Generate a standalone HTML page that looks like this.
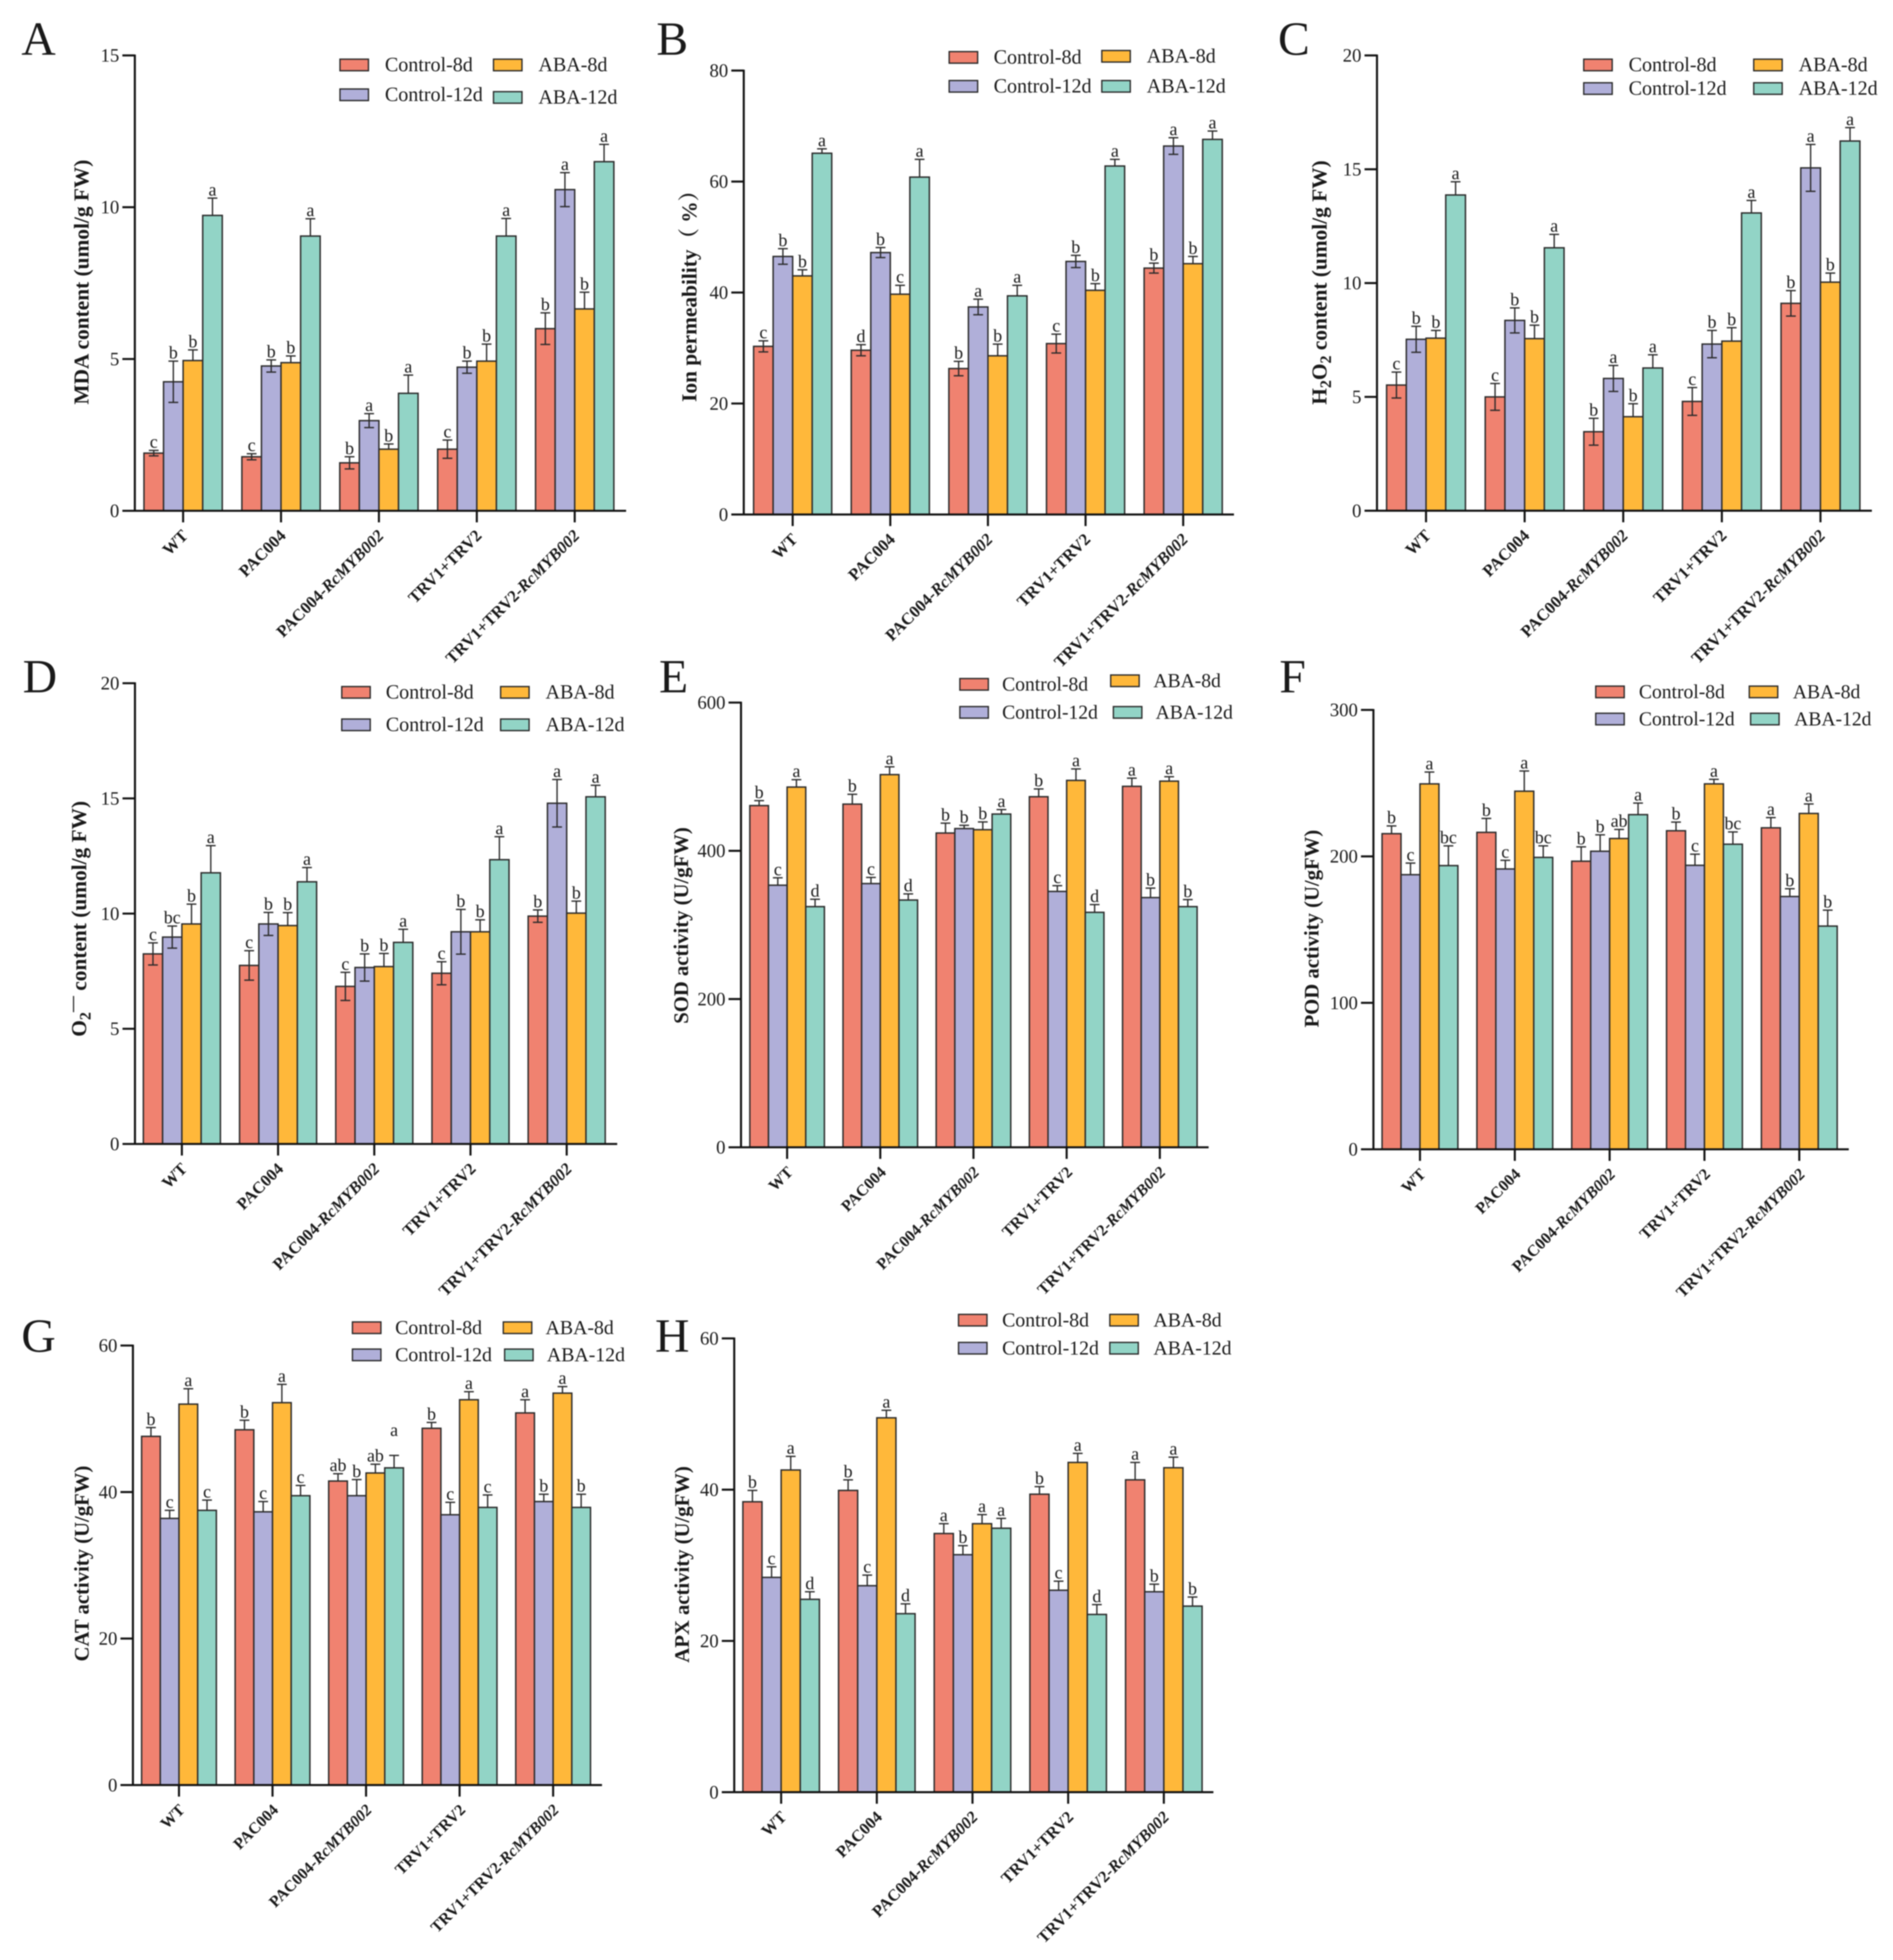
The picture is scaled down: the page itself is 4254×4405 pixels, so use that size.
<!DOCTYPE html>
<html lang="en">
<head>
<meta charset="utf-8">
<title>Physiological indices across eight panels</title>
<style>
html,body{margin:0;padding:0;background:#fff;}
svg{display:block;filter:blur(1.4px);}
text{font-family:"Liberation Serif","Noto Serif CJK SC",serif;fill:#1a1a1a;}
</style>
</head>
<body>
<svg id="figure" xmlns="http://www.w3.org/2000/svg" width="4254" height="4405" viewBox="0 0 4254 4405"></svg>
<script>
const categories = ['WT', 'PAC004', 'PAC004-RcMYB002', 'TRV1+TRV2', 'TRV1+TRV2-RcMYB002'];
const seriesNames = ['Control-8d', 'Control-12d', 'ABA-8d', 'ABA-12d'];

const mdaTicks = [0, 5, 10, 15];
const mdaControl8d = [1.9, 1.78, 1.58, 2.03, 6.0];
const mdaControl12d = [4.25, 4.77, 2.97, 4.73, 10.58];
const mdaAba8d = [4.95, 4.88, 2.03, 4.93, 6.65];
const mdaAba12d = [9.73, 9.05, 3.87, 9.05, 11.5];
const mdaControl8dErr = [0.09, 0.1, 0.2, 0.3, 0.52];
const mdaControl12dErr = [0.68, 0.2, 0.23, 0.2, 0.56];
const mdaAba8dErr = [0.35, 0.22, 0.17, 0.56, 0.55];
const mdaAba12dErr = [0.57, 0.57, 0.6, 0.58, 0.57];
const mdaLetters = [['c','b','b','a'],['c','b','b','a'],['b','a','b','a'],['c','b','b','a'],['b','a','b','a']];

const ionTicks = [0, 20, 40, 60, 80];
const ionControl8d = [30.3, 29.6, 26.3, 30.8, 44.4];
const ionControl12d = [46.5, 47.2, 37.4, 45.6, 66.4];
const ionAba8d = [43, 39.7, 28.6, 40.4, 45.2];
const ionAba12d = [65.1, 60.8, 39.4, 62.8, 67.6];
const ionControl8dErr = [1.0, 1.0, 1.3, 1.7, 0.9];
const ionControl12dErr = [1.4, 0.9, 1.4, 1.1, 1.5];
const ionAba8dErr = [1.1, 1.6, 2.1, 1.2, 1.3];
const ionAba12dErr = [0.8, 3.2, 1.9, 1.2, 1.5];
const ionLetters = [['c','b','b','a'],['d','b','c','a'],['b','a','b','a'],['c','b','b','a'],['b','a','b','a']];

const h2o2Ticks = [0, 5, 10, 15, 20];
const h2o2Control8d = [5.52, 5.0, 3.47, 4.8, 9.11];
const h2o2Control12d = [7.53, 8.36, 5.81, 7.32, 15.06];
const h2o2Aba8d = [7.58, 7.56, 4.13, 7.45, 10.04];
const h2o2Aba12d = [13.87, 11.55, 6.27, 13.08, 16.24];
const h2o2Control8dErr = [0.57, 0.59, 0.59, 0.61, 0.56];
const h2o2Control12dErr = [0.57, 0.55, 0.57, 0.6, 1.03];
const h2o2Aba8dErr = [0.34, 0.59, 0.57, 0.59, 0.4];
const h2o2Aba12dErr = [0.58, 0.59, 0.58, 0.55, 0.59];
const h2o2Letters = [['c','b','b','a'],['c','b','b','a'],['b','a','b','a'],['c','b','b','a'],['b','a','b','a']];

const o2Ticks = [0, 5, 10, 15, 20];
const o2Control8d = [8.25, 7.75, 6.84, 7.41, 9.89];
const o2Control12d = [8.98, 9.55, 7.66, 9.21, 14.79];
const o2Aba8d = [9.55, 9.48, 7.7, 9.21, 10.02];
const o2Aba12d = [11.77, 11.38, 8.75, 12.34, 15.07];
const o2Control8dErr = [0.48, 0.64, 0.61, 0.5, 0.27];
const o2Control12dErr = [0.48, 0.5, 0.59, 0.97, 1.03];
const o2Aba8dErr = [0.86, 0.56, 0.57, 0.52, 0.52];
const o2Aba12dErr = [1.18, 0.62, 0.57, 1.0, 0.5];
const o2Letters = [['c','bc','b','a'],['c','b','b','a'],['c','b','b','a'],['c','b','b','a'],['b','a','b','a']];

const sodTicks = [0, 200, 400, 600];
const sodControl8d = [461, 463, 424, 473, 487];
const sodControl12d = [353.6, 355.8, 430, 345.2, 336.9];
const sodAba8d = [486, 502.8, 428.5, 495, 494];
const sodAba12d = [324.7, 333.6, 449.6, 317, 324.7];
const sodControl8dErr = [6.7, 13.3, 13.3, 10.5, 11];
const sodControl12dErr = [10, 8.3, 4.4, 7.8, 12.8];
const sodAba8dErr = [10, 10.5, 10.5, 15.5, 6];
const sodAba12dErr = [10, 8.3, 6, 10.5, 9.5];
const sodLetters = [['b','c','a','d'],['b','c','a','d'],['b','b','b','a'],['b','c','a','d'],['a','b','a','b']];

const podTicks = [0, 100, 200, 300];
const podControl8d = [215.5, 216.4, 196.7, 217.5, 219.5];
const podControl12d = [187.5, 191.4, 203.5, 193.9, 172.6];
const podAba8d = [249.5, 244.5, 212.2, 249.5, 229.3];
const podAba12d = [193.7, 199.3, 228.5, 208.3, 152.4];
const podControl8dErr = [5.3, 9.5, 9.8, 5.9, 7];
const podControl12dErr = [7.9, 5.9, 11.2, 7.6, 5.3];
const podAba8dErr = [8.1, 13.8, 6.2, 3.1, 6.5];
const podAba12dErr = [13.5, 7.9, 7.9, 8.4, 10.9];
const podLetters = [['b','c','a','bc'],['b','c','a','bc'],['b','b','ab','a'],['b','c','a','bc'],['a','b','a','b']];

const catTicks = [0, 20, 40, 60];
const catControl8d = [47.6, 48.5, 41.5, 48.7, 50.8];
const catControl12d = [36.4, 37.3, 39.5, 36.9, 38.7];
const catAba8d = [52, 52.2, 42.6, 52.6, 53.5];
const catAba12d = [37.5, 39.5, 43.3, 37.9, 37.9];
const catControl8dErr = [1.2, 1.3, 1.0, 0.8, 1.8];
const catControl12dErr = [1.1, 1.4, 2.2, 1.7, 1.0];
const catAba8dErr = [2.1, 2.5, 1.2, 1.1, 0.9];
const catAba12dErr = [1.4, 1.4, 1.7, 1.7, 1.8];
const catLetters = [['b','c','a','c'],['b','c','a','c'],['ab','b','ab','a'],['b','c','a','c'],['a','b','a','b']];

const apxTicks = [0, 20, 40, 60];
const apxControl8d = [38.4, 39.9, 34.2, 39.4, 41.3];
const apxControl12d = [28.4, 27.3, 31.4, 26.7, 26.5];
const apxAba8d = [42.6, 49.5, 35.5, 43.6, 42.9];
const apxAba12d = [25.5, 23.6, 34.9, 23.5, 24.6];
const apxControl8dErr = [1.5, 1.4, 1.3, 1.0, 2.3];
const apxControl12dErr = [1.4, 1.4, 1.2, 1.2, 1.0];
const apxAba8dErr = [1.8, 1.0, 1.2, 1.2, 1.4];
const apxAba12dErr = [1.0, 1.3, 1.3, 1.3, 1.2];
const apxLetters = [['b','c','a','d'],['b','c','a','d'],['a','b','a','a'],['b','c','a','d'],['a','b','a','b']];

/* Layout only (pixels and styling), kept apart from the data arrays above. */
const seriesColors = ['#F08270', '#B0AFD9', '#FFB83A', '#92D4C6'];
const SVG_NS = 'http://www.w3.org/2000/svg';
const panels = [
  {key:'a', letter:'A', lx:48, ly:123, ax:303, y0:1148, yTop:124.6, firstC:411.5, step:220, bw:44, xEnd:1407,
   ticks:mdaTicks, values:[mdaControl8d,mdaControl12d,mdaAba8d,mdaAba12d], errs:[mdaControl8dErr,mdaControl12dErr,mdaAba8dErr,mdaAba12dErr], letters:mdaLetters, lowerSeries:2,
   titleX:183, titleY:634, titleSize:48, labelSize:37.6, labelDx:13, legendSize:45, title:[['MDA content (umol/g FW)','']],
   legend:[[764,146,865],[764,213,865],[1109,146,1210],[1109,219,1210]]},
  {key:'b', letter:'B', lx:1475, ly:123, ax:1671.4, y0:1156.3, yTop:158.6, firstC:1781.3, step:219.4, bw:43.9, xEnd:2773,
   ticks:ionTicks, values:[ionControl8d,ionControl12d,ionAba8d,ionAba12d], errs:[ionControl8dErr,ionControl12dErr,ionAba8dErr,ionAba12dErr], letters:ionLetters, lowerSeries:2,
   titleX:1549, titleY:654, titleSize:48, labelSize:37.6, labelDx:13, legendSize:45, title:[['Ion permeability\uFF08 %\uFF09','']],
   legend:[[2133,129,2233],[2133,194,2233],[2476,126.5,2577],[2476,194,2577]]},
  {key:'c', letter:'C', lx:2872, ly:123, ax:3094.4, y0:1147.8, yTop:124.6, firstC:3204.6, step:221.6, bw:44.3, xEnd:4206.5,
   ticks:h2o2Ticks, values:[h2o2Control8d,h2o2Control12d,h2o2Aba8d,h2o2Aba12d], errs:[h2o2Control8dErr,h2o2Control12dErr,h2o2Aba8dErr,h2o2Aba12dErr], letters:h2o2Letters, lowerSeries:2,
   titleX:2965, titleY:635, titleSize:48, labelSize:37.6, labelDx:13, legendSize:45, title:[['H',''],['2','sub'],['O',''],['2','sub'],[' content (umol/g FW)','']],
   legend:[[3559,146,3660],[3559,199,3660],[3941,146,4042],[3941,199,4042]]},
  {key:'d', letter:'D', lx:51, ly:1556, ax:303.3, y0:2571, yTop:1535.5, firstC:408.7, step:216.2, bw:43.3, xEnd:1387,
   ticks:o2Ticks, values:[o2Control8d,o2Control12d,o2Aba8d,o2Aba12d], errs:[o2Control8dErr,o2Control12dErr,o2Aba8dErr,o2Aba12dErr], letters:o2Letters, lowerSeries:2,
   titleX:177.5, titleY:2065, titleSize:48, labelSize:37.4, labelDx:14, legendSize:45, title:[['O',''],['2','sub'],['\u2014','sup'],[' content (umol/g FW)','']],
   legend:[[768,1556,867],[768,1629,867],[1125,1556,1226],[1125,1629,1226]]},
  {key:'e', letter:'E', lx:1481, ly:1556, ax:1665.2, y0:2578.5, yTop:1579, firstC:1768.8, step:209.4, bw:41.9, xEnd:2716,
   ticks:sodTicks, values:[sodControl8d,sodControl12d,sodAba8d,sodAba12d], errs:[sodControl8dErr,sodControl12dErr,sodAba8dErr,sodAba12dErr], letters:sodLetters, lowerSeries:0,
   titleX:1530, titleY:2080, titleSize:46.5, labelSize:36, labelDx:15, legendSize:44, title:[['SOD activity (U/gFW)','']],
   legend:[[2157,1538,2252],[2157,1601,2252],[2496,1530,2592],[2502,1601,2597]]},
  {key:'f', letter:'F', lx:2875, ly:1556, ax:3086.4, y0:2583, yTop:1595.5, firstC:3191, step:213.1, bw:42.6, xEnd:4154.6,
   ticks:podTicks, values:[podControl8d,podControl12d,podAba8d,podAba12d], errs:[podControl8dErr,podControl12dErr,podAba8dErr,podAba12dErr], letters:podLetters, lowerSeries:0,
   titleX:2947, titleY:2087, titleSize:46.5, labelSize:36.2, labelDx:15, legendSize:44, title:[['POD activity (U/gFW)','']],
   legend:[[3586,1555,3683],[3586,1616,3683],[3931,1555,4029],[3934,1616,4032]]},
  {key:'g', letter:'G', lx:48, ly:3038, ax:298.7, y0:4011.8, yTop:3024, firstC:402.2, step:210.2, bw:42, xEnd:1352.8,
   ticks:catTicks, values:[catControl8d,catControl12d,catAba8d,catAba12d], errs:[catControl8dErr,catControl12dErr,catAba8dErr,catAba12dErr], letters:catLetters, lowerSeries:0, liftGroup:2, liftSeries:3, liftPx:38,
   titleX:183, titleY:3514, titleSize:46.5, labelSize:36, labelDx:15, legendSize:44.5, title:[['CAT activity (U/gFW)','']],
   legend:[[792,2984,888],[792,3045,888],[1131,2984,1226],[1134,3045,1229]]},
  {key:'h', letter:'H', lx:1472, ly:3038, ax:1650, y0:4027.8, yTop:3008, firstC:1755.4, step:215, bw:43, xEnd:2726.8,
   ticks:apxTicks, values:[apxControl8d,apxControl12d,apxAba8d,apxAba12d], errs:[apxControl8dErr,apxControl12dErr,apxAba8dErr,apxAba12dErr], letters:apxLetters, lowerSeries:0,
   titleX:1532, titleY:3516, titleSize:46.5, labelSize:37, labelDx:14, legendSize:44.5, title:[['APX activity (U/gFW)','']],
   legend:[[2154,2967,2252],[2154,3030,2252],[2494,2967,2592],[2494,3030,2592]]}
];

function make(tag, attrs, parent) {
  const el = document.createElementNS(SVG_NS, tag);
  for (const k in attrs) el.setAttribute(k, attrs[k]);
  parent.appendChild(el);
  return el;
}

const root = document.getElementById('figure');

panels.forEach(function (p) {
  const g = make('g', {}, root);
  
  

  const maxV = p.ticks[p.ticks.length - 1];
  const yScale = function (v) { return p.y0 - (p.y0 - p.yTop) * v / maxV; };
  const xCenter = function (i) { return p.firstC + p.step * i; };
  const barLeft = function (i, s) { return xCenter(i) + (s - 2) * p.bw; };

  const panelLetter = make('text', {x: p.lx, y: p.ly, 'font-size': 107}, g);
  panelLetter.textContent = p.letter;
  
  

  const title = make('text', {transform: 'translate(' + (p.titleX + 16) + ' ' + p.titleY + ') rotate(-90)', 'text-anchor': 'middle', 'font-size': p.titleSize, 'font-weight': 'bold'}, g);
  
  
  p.title.forEach(function (part) {
    const t = make('tspan', {}, title);
    t.textContent = part[0];
    if (part[1] === 'sub') {
      t.setAttribute('font-size', 36);
      t.setAttribute('dy', 10);
    } else if (part[1] === 'sup') {
      t.setAttribute('font-size', 36);
      t.setAttribute('dy', -30);
    } else if (title.childNodes.length > 1) {
      const prev = p.title[title.childNodes.length - 2][1];
      t.setAttribute('dy', prev === 'sub' ? -10 : prev === 'sup' ? 20 : 0);
    }
  });

  p.values.forEach(function (vals, s) {
    vals.forEach(function (v, i) {
      const top = yScale(v);
      const bar = make('rect', {x: barLeft(i, s), y: top, width: p.bw, height: p.y0 - top, fill: seriesColors[s], stroke: '#2a2a2a', 'stroke-width': 3.2}, g);
      
      
    });
  });

  p.values.forEach(function (vals, s) {
    vals.forEach(function (v, i) {
      const cx = barLeft(i, s) + p.bw / 2;
      const e = p.errs[s][i];
      const yHi = yScale(v + e);
      const yLo = s < p.lowerSeries ? yScale(v - e) : yScale(v);
      const stem = make('line', {x1: cx, x2: cx, y1: yHi, y2: yLo, stroke: '#2a2a2a', 'stroke-width': 3}, g);
      
      
      const capTop = make('line', {x1: cx - 11, x2: cx + 11, y1: yHi, y2: yHi, stroke: '#2a2a2a', 'stroke-width': 3}, g);
      
      
      if (s < p.lowerSeries) {
        const capLow = make('line', {x1: cx - 11, x2: cx + 11, y1: yLo, y2: yLo, stroke: '#2a2a2a', 'stroke-width': 3}, g);
        
        
      }
      const lift = (p.liftGroup === i && p.liftSeries === s) ? p.liftPx : 0;
      const sig = make('text', {x: cx, y: yHi - 6 - lift, 'text-anchor': 'middle', 'font-size': 40}, g);
      sig.textContent = p.letters[i][s];
      
      
    });
  });

  const yAxis = make('line', {x1: p.ax, x2: p.ax, y1: p.yTop - 2, y2: p.y0 + 2, stroke: '#111', 'stroke-width': 4.6}, g);
  
  
  const xAxis = make('line', {x1: p.ax, x2: p.xEnd, y1: p.y0, y2: p.y0, stroke: '#111', 'stroke-width': 4.6}, g);
  
  

  p.ticks.forEach(function (t) {
    const y = yScale(t);
    const mark = make('line', {x1: p.ax - 28, x2: p.ax, y1: y, y2: y, stroke: '#111', 'stroke-width': 4.6}, g);
    
    
    const lab = make('text', {x: p.ax - 35, y: y + 14, 'text-anchor': 'end', 'font-size': 42}, g);
    lab.textContent = t;
    
    
  });

  categories.forEach(function (c, i) {
    const x = xCenter(i);
    const mark = make('line', {x1: x, x2: x, y1: p.y0, y2: p.y0 + 26, stroke: '#111', 'stroke-width': 4.6}, g);
    
    
    const lab = make('text', {transform: 'translate(' + (x + p.labelDx) + ' ' + (p.y0 + 58) + ') rotate(-45)', 'text-anchor': 'end', 'font-size': p.labelSize, 'font-weight': 'bold'}, g);
    
    
    const idx = c.indexOf('RcMYB002');
    if (idx >= 0) {
      const plain = make('tspan', {}, lab);
      plain.textContent = c.slice(0, idx);
      const ital = make('tspan', {'font-style': 'italic'}, lab);
      ital.textContent = 'RcMYB002';
    } else {
      lab.textContent = c;
    }
  });

  seriesNames.forEach(function (name, s) {
    const pos = p.legend[s];
    const entry = make('g', {}, g);
    
    
    const sw = make('rect', {x: pos[0], y: pos[1] - 13, width: 64, height: 26, fill: seriesColors[s], stroke: '#2a2a2a', 'stroke-width': 3}, entry);
    
    
    const tx = make('text', {x: pos[2], y: pos[1] + 14, 'font-size': p.legendSize}, entry);
    tx.textContent = name;
    
    
  });
});
</script>
</body>
</html>
